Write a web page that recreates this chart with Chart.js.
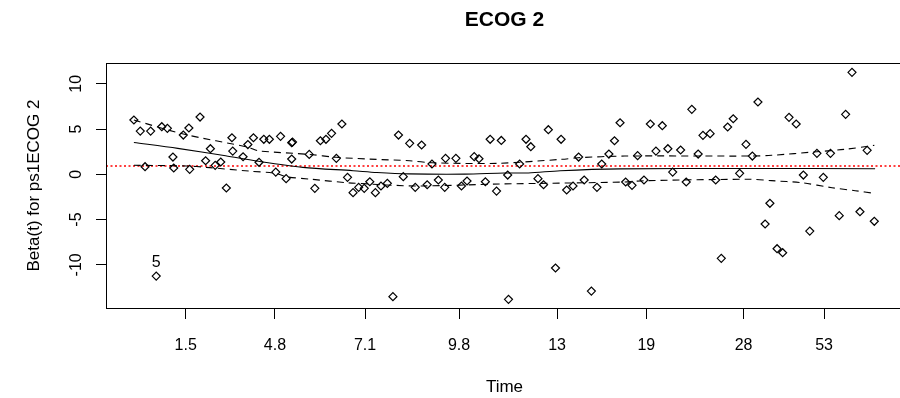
<!DOCTYPE html>
<html><head><meta charset="utf-8">
<script src="https://cdn.jsdelivr.net/npm/chart.js@4"></script>
<style>html,body{margin:0;padding:0;background:#fff;overflow:hidden;width:900px;height:398px}canvas{display:block}</style>
</head><body>
<canvas id="c" width="903" height="398"></canvas>
<script>
// ---- data (x = transformed time, y = scaled Schoenfeld residual) ----
const pointTimes = [0.035,0.043,0.049,0.056,0.063,0.070,0.077,0.084,0.085,0.097,
  0.104,0.105,0.118,0.125,0.131,0.137,0.144,0.151,0.158,0.159,
  0.172,0.178,0.185,0.192,0.198,0.205,0.213,0.219,0.226,0.233,
  0.234,0.233,0.255,0.262,0.269,0.276,0.283,0.289,0.296,0.303,
  0.310,0.317,0.324,0.331,0.338,0.345,0.353,0.360,0.367,0.373,
  0.381,0.388,0.396,0.403,0.409,0.417,0.425,0.426,0.439,0.446,
  0.453,0.462,0.468,0.476,0.482,0.490,0.496,0.504,0.505,0.519,
  0.527,0.533,0.542,0.549,0.555,0.564,0.571,0.578,0.586,0.593,
  0.600,0.609,0.616,0.622,0.631,0.638,0.645,0.652,0.660,0.667,
  0.675,0.683,0.690,0.698,0.705,0.711,0.721,0.728,0.735,0.743,
  0.749,0.758,0.765,0.772,0.780,0.787,0.795,0.803,0.811,0.818,
  0.827,0.833,0.842,0.849,0.857,0.866,0.875,0.883,0.892,0.900,
  0.909,0.920,0.928,0.936,0.946,0.955,0.964];
const pointBetas = [6.00,4.78,0.84,4.78,-11.24,5.26,5.08,1.91,0.70,4.34,
  5.12,0.55,6.33,1.50,2.83,0.99,1.36,-1.51,4.04,2.57,
  1.94,3.29,4.04,1.33,3.87,3.87,0.25,4.20,-0.48,3.49,
  3.56,1.69,2.20,-1.55,3.71,3.87,4.53,1.77,5.56,-0.33,
  -2.03,-1.44,-1.55,-0.82,-2.03,-1.29,-1.00,-13.52,4.34,-0.26,
  3.42,-1.44,3.24,-1.15,1.14,-0.63,-1.44,1.77,1.77,-1.29,
  -0.74,1.95,1.72,-0.82,3.87,-1.85,3.74,-0.08,-13.81,1.14,
  3.87,3.05,-0.48,-1.15,4.93,-10.35,3.87,-1.73,-1.29,1.91,
  -0.63,-12.90,-1.44,1.14,2.24,3.71,5.70,-0.85,-1.22,2.06,
  -0.63,5.56,2.57,5.37,2.83,0.25,2.69,-0.85,7.18,2.24,
  4.31,4.49,-0.63,-9.28,5.23,6.14,0.11,3.31,2.02,7.99,
  -5.49,-3.20,-8.22,-8.66,6.30,5.56,-0.08,-6.27,2.32,-0.33,
  2.32,-4.57,6.63,11.27,-4.13,2.65,-5.19];

const fitTimes = [0.035,0.09,0.15,0.189,0.247,0.31,0.34,0.38,0.45,0.5,0.53,0.57,0.645,0.8,0.965];
const fitBetas = [3.52,2.87,2.05,1.47,0.77,0.40,0.20,0.05,0.02,0.15,0.15,0.40,0.60,0.65,0.62];

const upperTimes = [0.035,0.097,0.179,0.191,0.255,0.289,0.331,0.381,0.409,0.490,0.572,0.592,0.651,0.808,0.835,0.892,0.927,0.964];
const upperBetas = [6.0,4.45,2.98,2.6,2.2,1.88,1.68,1.5,1.28,1.21,1.66,1.83,2.02,2.02,2.1,2.5,2.76,3.2];

const lowerTimes = [0.035,0.101,0.126,0.179,0.213,0.226,0.258,0.303,0.331,0.352,0.394,0.494,0.651,0.676,0.808,0.835,0.873,0.911,0.940,0.964];
const lowerBetas = [1.0,0.92,0.77,0.36,0.11,-0.26,-0.55,-0.93,-1.07,-1.18,-1.29,-1.07,-0.85,-0.7,-0.55,-0.7,-0.93,-1.48,-1.81,-2.1];

const coefEstimate = 0.92;

const xTickPositions = [0.100,0.212,0.325,0.443,0.566,0.678,0.800,0.901];
const xTickLabels = ['1.5','4.8','7.1','9.8','13','19','28','53'];
const yTickValues = [-10,-5,0,5,10];

const labeledIndex = 4;
const labeledText = '5';
const chartTitle = 'ECOG 2';
const xTitle = 'Time';
const yTitle = 'Beta(t) for ps1ECOG 2';

// ---- build ----
const FONT = "'Liberation Sans', Arial, sans-serif";
Chart.defaults.font.family = FONT;
Chart.defaults.color = '#000';

const zip = (xs, ys) => xs.map((x, i) => ({x, y: ys[i]}));

const rPlot = {
  id: 'rPlot',
  afterDraw(chart) {
    const {ctx, chartArea: a, scales: {x, y}} = chart;
    ctx.save();
    ctx.strokeStyle = '#000';
    ctx.lineWidth = 1;
    ctx.strokeRect(Math.round(a.left) + 0.5, Math.round(a.top) + 0.5,
                   Math.round(a.right - a.left), Math.round(a.bottom - a.top));
    ctx.fillStyle = '#000';
    ctx.font = '16px ' + FONT;
    ctx.textAlign = 'center';
    ctx.textBaseline = 'middle';
    yTickValues.forEach(v => {
      const py = y.getPixelForValue(v);
      ctx.save();
      ctx.translate(77, py);
      ctx.rotate(-Math.PI / 2);
      ctx.fillText(String(v), 0, 0);
      ctx.restore();
    });
    ctx.font = 'bold 21px ' + FONT;
    ctx.fillText(chartTitle, (a.left + a.right) / 2, 20);
    ctx.font = '16px ' + FONT;
    const px = x.getPixelForValue(pointTimes[labeledIndex]);
    const py = y.getPixelForValue(pointBetas[labeledIndex]);
    ctx.fillText(labeledText, px, py - 13);
    ctx.restore();
  }
};

new Chart(document.getElementById('c'), {
  type: 'scatter',
  data: {
    datasets: [
      {
        label: 'coef', data: [{x: 0, y: coefEstimate}, {x: 1, y: coefEstimate}],
        showLine: true, pointRadius: 0, borderColor: '#ff0000', borderWidth: 1.6,
        borderDash: [2, 2.5], order: 5
      },
      {
        label: 'fit', data: zip(fitTimes, fitBetas), showLine: true, pointRadius: 0,
        borderColor: '#000', borderWidth: 1.1, tension: 0.3, order: 3
      },
      {
        label: 'upper', data: zip(upperTimes, upperBetas), showLine: true, pointRadius: 0,
        borderColor: '#000', borderWidth: 1.1, borderDash: [7, 5], tension: 0.3, order: 3
      },
      {
        label: 'lower', data: zip(lowerTimes, lowerBetas), showLine: true, pointRadius: 0,
        borderColor: '#000', borderWidth: 1.1, borderDash: [7, 5], tension: 0.3, order: 3
      },
      {
        label: 'residuals', data: zip(pointTimes, pointBetas), showLine: false,
        pointStyle: 'rectRot', pointRadius: 4, pointBorderWidth: 1.2,
        pointBorderColor: '#000', pointBackgroundColor: 'rgba(0,0,0,0)', order: 1
      }
    ]
  },
  options: {
    responsive: false,
    devicePixelRatio: 1,
    animation: false,
    events: [],
    layout: {autoPadding: false, padding: {top: 63, right: 0, bottom: 0, left: 0}},
    plugins: {legend: {display: false}, title: {display: false}, tooltip: {enabled: false}},
    scales: {
      x: {
        type: 'linear', position: 'bottom', min: 0, max: 1,
        afterBuildTicks: s => { s.ticks = xTickPositions.map(v => ({value: v})); },
        afterFit: s => { s.height = 90; s.paddingLeft = 0; s.paddingRight = 0; },
        ticks: {
          autoSkip: false, maxRotation: 0, minRotation: 0, padding: 17,
          font: {size: 16}, color: '#000',
          callback: (v, i) => xTickLabels[i]
        },
        grid: {drawOnChartArea: false, drawTicks: true, tickLength: 11, color: '#000', lineWidth: 1},
        border: {display: true, color: '#000', width: 1},
        title: {display: true, text: xTitle, font: {size: 17}, color: '#000', padding: {top: 0, bottom: 0}}
      },
      y: {
        type: 'linear', position: 'left', min: -14.77, max: 12.30,
        afterBuildTicks: s => { s.ticks = yTickValues.map(v => ({value: v})); },
        afterFit: s => { s.width = 106; s.paddingTop = 0; s.paddingBottom = 0; },
        ticks: {display: false},
        grid: {drawOnChartArea: false, drawTicks: true, tickLength: 10, color: '#000', lineWidth: 1},
        border: {display: true, color: '#000', width: 1},
        title: {display: true, text: yTitle, font: {size: 17}, color: '#000', padding: {top: 24, bottom: 0}}
      }
    }
  },
  plugins: [rPlot]
});
</script>
</body></html>
